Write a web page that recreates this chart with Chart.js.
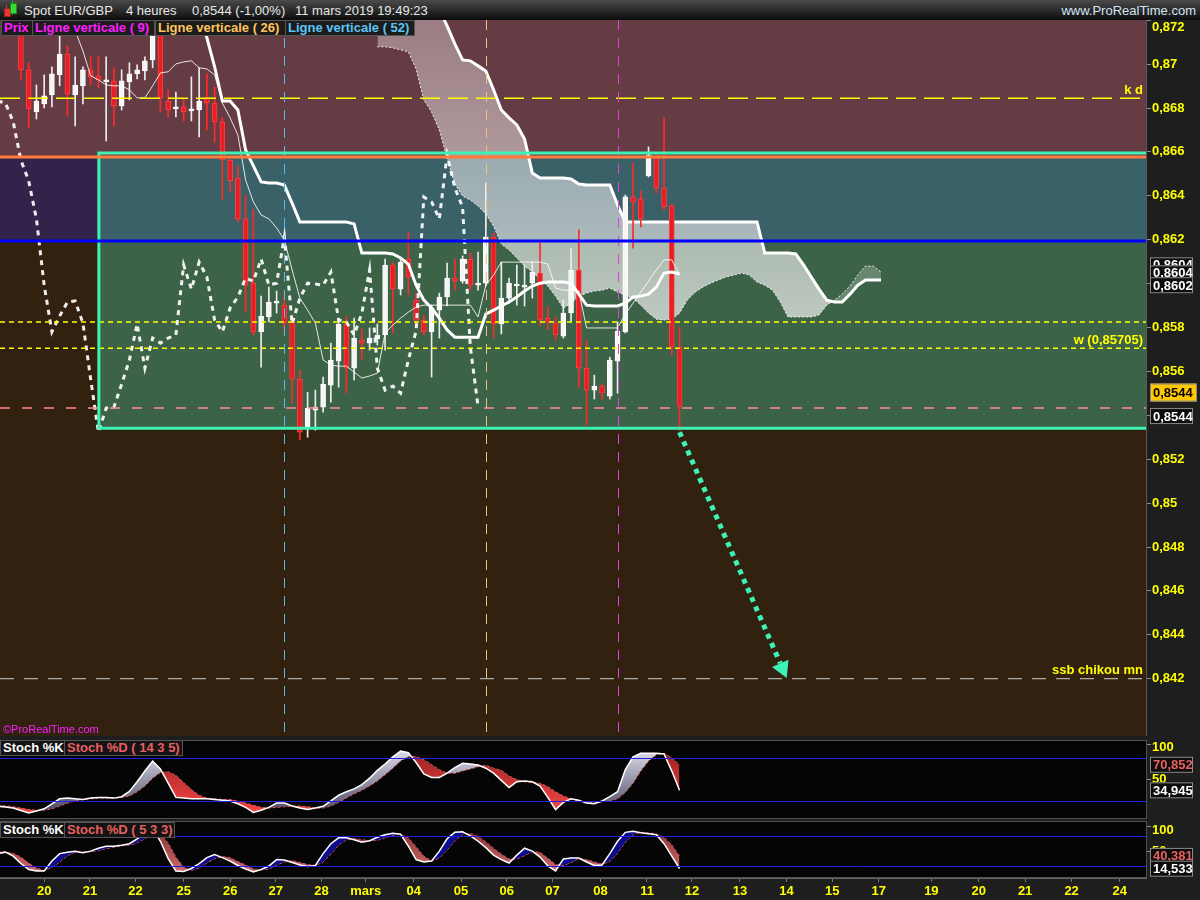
<!DOCTYPE html>
<html>
<head>
<meta charset="utf-8">
<script src="https://cdn.jsdelivr.net/npm/chart.js@4.4.1/dist/chart.umd.min.js"></script>
<style>
  body { margin:0; width:1200px; height:900px; overflow:hidden; background:#1e1e1e; font-family:"Liberation Sans", Arial, sans-serif; }
  canvas { position:absolute; left:0; }
  #hdr { position:absolute; left:0; top:0; width:1200px; height:20px; background:linear-gradient(#4a4a4a,#0c0c0c); color:#e8e8e8; font-size:13px; z-index:3; }
  #hdr span { position:absolute; top:3px; white-space:nowrap; }
  .lg { position:absolute; top:20px; height:14px; line-height:14px; background:#1c1c1c; border:1px solid #555; font-weight:bold; font-size:13px; padding-left:2px; white-space:nowrap; z-index:3; }
  .stl { position:absolute; height:14px; line-height:14px; background:#141414; border:1px solid #555; font-weight:bold; font-size:13px; padding:0 2px; white-space:nowrap; z-index:3; }
  .ic { position:absolute; z-index:4; }
</style>
</head>
<body>
<div id="hdr">
  <div class="ic" style="left:6px;top:5px;width:1px;height:12px;background:#d33"></div>
  <div class="ic" style="left:4px;top:8px;width:5px;height:7px;background:#e33;border:1px solid #922"></div>
  <div class="ic" style="left:12px;top:1px;width:1px;height:14px;background:#3c3"></div>
  <div class="ic" style="left:10px;top:3px;width:5px;height:9px;background:#3d3;border:1px solid #282"></div>
  <span style="left:24px">Spot EUR/GBP</span>
  <span style="left:126px">4 heures</span>
  <span style="left:192px">0,8544 (-1,00%)</span>
  <span style="left:295px">11 mars 2019 19:49:23</span>
  <span style="right:4px;color:#d4e4f4">www.ProRealTime.com</span>
</div>
<div class="lg" style="left:1px;width:28px;color:#ff1cff">Prix</div>
<div class="lg" style="left:32px;width:119px;color:#ff1cff">Ligne verticale ( 9)</div>
<div class="lg" style="left:155px;width:127px;color:#ffc45c">Ligne verticale ( 26)</div>
<div class="lg" style="left:285px;width:126px;color:#5cc4f4">Ligne verticale ( 52)</div>
<div style="position:absolute;left:3px;top:723px;font-size:11px;color:#ff20ff;z-index:3">©ProRealTime.com</div>
<div class="stl" style="left:0px;top:740px;color:#fff">Stoch %K</div>
<div class="stl" style="left:64px;top:740px;color:#e86060">Stoch %D ( 14 3 5)</div>
<div class="stl" style="left:0px;top:822px;color:#fff">Stoch %K</div>
<div class="stl" style="left:64px;top:822px;color:#e86060">Stoch %D ( 5 3 3)</div>

<canvas id="main" width="1200" height="716" style="top:20px"></canvas>
<canvas id="st1" width="1200" height="79" style="top:740px"></canvas>
<canvas id="st2" width="1200" height="79" style="top:821px"></canvas>

<script>
// EUR/GBP 4h candles, bar 0 = first visible bar (20 feb)
const opens  = [0.87156,0.86974,0.86782,0.86819,0.86860,0.86951,0.87046,0.86860,0.86901,0.86974,0.86947,0.86919,0.86924,0.86810,0.86919,0.86956,0.86969,0.87019,0.87165,0.86832,0.86796,0.86805,0.86787,0.86791,0.86846,0.86823,0.86737,0.86563,0.86481,0.86295,0.86002,0.85780,0.85848,0.85911,0.85902,0.85825,0.85565,0.85341,0.85423,0.85437,0.85537,0.85647,0.85816,0.85615,0.85743,0.85729,0.85748,0.85766,0.86085,0.85975,0.86112,0.85925,0.85834,0.85780,0.85879,0.85939,0.86025,0.86011,0.86112,0.85993,0.86002,0.86212,0.85816,0.85934,0.85989,0.85984,0.86002,0.86048,0.85843,0.85820,0.85761,0.85866,0.86062,0.85615,0.85515,0.85533,0.85487,0.85647,0.85780,0.86395,0.86386,0.86491,0.86582,0.86436,0.86354,0.85711];
const highs  = [0.87193,0.87006,0.86905,0.86951,0.86988,0.87138,0.87083,0.87033,0.86988,0.87033,0.87033,0.87033,0.86983,0.86974,0.87006,0.86997,0.87033,0.87197,0.87184,0.86883,0.86873,0.86842,0.86942,0.86983,0.86956,0.86896,0.86755,0.86572,0.86536,0.86404,0.86336,0.85943,0.85984,0.85966,0.85961,0.85857,0.85606,0.85505,0.85515,0.85574,0.85729,0.85843,0.85852,0.85843,0.85793,0.85798,0.85816,0.86112,0.86098,0.86112,0.86235,0.85957,0.85857,0.85902,0.85957,0.86094,0.86112,0.86126,0.86139,0.86144,0.86458,0.86231,0.86098,0.86025,0.86085,0.86085,0.86098,0.86185,0.85893,0.85848,0.85925,0.86162,0.86245,0.85743,0.85583,0.85542,0.85665,0.85825,0.86404,0.86550,0.86422,0.86623,0.86586,0.86755,0.86363,0.85802];
const lows   = [0.86928,0.86709,0.86750,0.86801,0.86805,0.86901,0.86764,0.86718,0.86819,0.86905,0.86892,0.86650,0.86718,0.86791,0.86837,0.86933,0.86928,0.86983,0.86782,0.86759,0.86759,0.86741,0.86741,0.86668,0.86700,0.86645,0.86381,0.86417,0.86281,0.85870,0.85766,0.85619,0.85825,0.85866,0.85775,0.85455,0.85289,0.85300,0.85332,0.85414,0.85460,0.85528,0.85501,0.85561,0.85652,0.85697,0.85720,0.85697,0.85775,0.85948,0.85948,0.85802,0.85766,0.85574,0.85752,0.85898,0.85970,0.86002,0.85970,0.85970,0.85989,0.85752,0.85771,0.85911,0.85902,0.85898,0.85934,0.85807,0.85789,0.85743,0.85752,0.85825,0.85528,0.85355,0.85474,0.85474,0.85474,0.85501,0.85775,0.86162,0.86258,0.86486,0.86413,0.86336,0.85674,0.85332];
const closes = [0.86974,0.86796,0.86832,0.86855,0.86956,0.87046,0.86864,0.86905,0.86974,0.86942,0.86928,0.86924,0.86810,0.86924,0.86956,0.86974,0.87015,0.87165,0.86846,0.86791,0.86805,0.86782,0.86796,0.86832,0.86823,0.86737,0.86563,0.86468,0.86295,0.85993,0.85780,0.85852,0.85916,0.85921,0.85820,0.85565,0.85323,0.85433,0.85437,0.85542,0.85652,0.85816,0.85615,0.85752,0.85729,0.85752,0.85766,0.86085,0.85975,0.86098,0.86030,0.85834,0.85780,0.85889,0.85939,0.86025,0.86011,0.86112,0.85993,0.86002,0.86212,0.85816,0.85934,0.86002,0.85998,0.85993,0.86053,0.85834,0.85825,0.85766,0.85866,0.86062,0.85615,0.85515,0.85533,0.85501,0.85652,0.85784,0.86395,0.86372,0.86295,0.86586,0.86436,0.86349,0.85711,0.85440];

// Ichimoku
const tenkan = [0.8731,0.8731,0.8731,0.8729,0.8727,0.8725,0.8723,0.87152,0.87060,0.86947,0.86928,0.86905,0.86901,0.86901,0.86883,0.86846,0.86846,0.86901,0.86960,0.86965,0.87001,0.87010,0.87015,0.86983,0.86978,0.86951,0.86823,0.86755,0.86677,0.86472,0.86372,0.86313,0.86295,0.86254,0.86199,0.86062,0.85934,0.85879,0.85820,0.85652,0.85629,0.85624,0.85624,0.85597,0.85570,0.85579,0.85592,0.85775,0.85811,0.85843,0.85870,0.85893,0.85902,0.85902,0.85902,0.85902,0.85902,0.85902,0.85902,0.85848,0.85993,0.86039,0.86098,0.86098,0.86098,0.86098,0.86098,0.86098,0.86089,0.85980,0.85970,0.85970,0.85966,0.85798,0.85798,0.85798,0.85798,0.85798,0.85861,0.85911,0.85961,0.86011,0.86062,0.86108,0.86108,0.8604];
const kijun  = [0.8738,0.8738,0.8738,0.8738,0.8738,0.8738,0.8738,0.8738,0.8738,0.8738,0.8738,0.8738,0.8738,0.8738,0.8738,0.8738,0.8738,0.8738,0.8738,0.8738,0.8738,0.8738,0.87270,0.87211,0.87120,0.86988,0.86832,0.86832,0.86791,0.86609,0.86536,0.86463,0.86458,0.86458,0.86449,0.86367,0.86281,0.86281,0.86281,0.86281,0.86281,0.86281,0.86281,0.86272,0.86139,0.86139,0.86139,0.86139,0.86135,0.86117,0.86089,0.85993,0.85925,0.85889,0.85843,0.85789,0.85756,0.85756,0.85756,0.85756,0.85861,0.85879,0.85898,0.85916,0.85939,0.85966,0.85989,0.86002,0.86007,0.86007,0.86007,0.86002,0.85952,0.85902,0.85898,0.85898,0.85898,0.85898,0.85911,0.85939,0.85943,0.85952,0.85984,0.86048,0.86053,0.86044];
const cloudStart = 46;
const ssa = [0.87079,0.87079,0.87074,0.87065,0.87056,0.86978,0.86837,0.86782,0.86700,0.86572,0.86454,0.86399,0.86381,0.86354,0.86317,0.86262,0.86180,0.86153,0.86117,0.86080,0.86053,0.86021,0.85989,0.85943,0.85889,0.85911,0.85943,0.85957,0.85966,0.85970,0.85980,0.85961,0.85948,0.85934,0.85902,0.85866,0.85838,0.85834,0.85838,0.85866,0.85925,0.85961,0.85984,0.86002,0.86017,0.86030,0.86039,0.86048,0.86039,0.86007,0.85993,0.85970,0.85916,0.85848,0.85848,0.85848,0.85848,0.85857,0.85902,0.85925,0.85952,0.85989,0.86039,0.86080,0.86080,0.86053];
const ssb = [0.8740,0.8740,0.8740,0.8740,0.8740,0.8740,0.8740,0.8740,0.87250,0.87174,0.87092,0.87019,0.87015,0.86992,0.86969,0.86883,0.86791,0.86755,0.86723,0.86659,0.86504,0.86481,0.86481,0.86481,0.86481,0.86477,0.86454,0.86449,0.86449,0.86449,0.86449,0.86358,0.86281,0.86281,0.86281,0.86281,0.86281,0.86281,0.86281,0.86281,0.86281,0.86281,0.86281,0.86281,0.86281,0.86281,0.86281,0.86281,0.86281,0.86281,0.86139,0.86139,0.86139,0.86139,0.86135,0.86085,0.86030,0.85975,0.85925,0.85916,0.85916,0.85952,0.85993,0.86017,0.86017,0.86017];
const chikouShift = 26;

// Stochastics, first value is bar -3
const stochStart = -3;
const k1 = [12.5,11.5,10,6.5,3,6,9,16,23,24,23,22,24,25,25,24,26,33.5,47,62,76,65,45,25,24,23,23,23,22,21,20,16,11,4,7,11,17,17,13,10,8,10,12.5,20,28,33,37,43,52,63,72,82,90,88,74,58,53,53,59,67,73,72,70.5,66,59,49,39,47,48,47,41,25,8,18,23,21,17,16,20,26,33,64,82,87,87,87,86,62,34.945];
const d1 = [14,13,12,10,8,7,7,9,13,17,20,22,23,24,24,24,25,27,33,41,52,60,61,56,46,36,28,24,23,22,22,20,17,14,11,10,11,12,13,13,12,10,10,13,18,24,30,35,41,48,57,66,76,82,82,78,71,64,59,59,62,65,68,70,66,63,55,50,47,46,45,40,33,27,23,20,18,18,19,20,23,32,45,62,76,85,87,80,70.852];
const k2 = [45,48,40,25,13,10,10,30,45,48,50,47,50,56,60,60,62,65,75,86,95,70,35,10,9,15,25,37,43,37,30,21,14,8,13,20,33,32,27,22,19,21,45,65,77,77,73,68,71,78,83,86,84,60,33,28,30,50,75,88,89,81,70,57,42,33,26,42,56,50,38,20,10,34,36,36,28,21,22,45,70,88,90,87,85,83,65,40,14.533];
const d2 = [50,48,46,38,26,16,11,17,28,41,48,48,49,51,55,58,61,62,67,75,85,84,67,38,18,11,16,26,35,39,37,29,22,14,12,14,22,28,31,27,23,21,28,44,62,73,76,73,71,72,77,82,84,77,59,40,30,36,52,71,84,86,80,69,56,44,34,34,41,49,48,36,23,21,27,35,33,28,24,29,46,68,83,88,87,85,78,63,40.381];

// axes
const priceTicks = [0.842,0.844,0.846,0.848,0.85,0.852,0.854,0.856,0.858,0.86,0.862,0.864,0.866,0.868,0.87,0.872];
const dayLabels = ['20','21','22','25','26','27','28','mars','04','05','06','07','08','11','12','13','14','15','17','19','20','21','22','24'];
const dayTickPos = [3,8.9,14.8,21,27,32.9,38.8,44.5,50.7,56.8,62.7,68.6,74.8,80.8,86.6,92.8,98.8,104.7,110.7,117.5,123.6,129.6,135.6,141.8];

// drawn levels
const levelKD = 0.86845, levelOrange = 0.86577, levelBlue = 0.86194;
const levelY1 = 0.85825, levelW = 0.85705, levelPink = 0.85433, levelTarget = 0.842;
const boxLeft = 10.06, boxTop = 0.86595, boxBottom = 0.85341;
const vLines = [{at:34, color:'#58b8f0'}, {at:60, color:'#f0c37a'}, {at:77, color:'#e040e0'}];
const arrowFrom = [85, 0.85323], arrowTo = [98.0, 0.8427];

const X_MIN = -2.7, X_MAX = 145.2;
const FONT = '"Liberation Sans", Arial, sans-serif';
const CYAN = '#3ef2b5';
Chart.defaults.font.family = FONT;
Chart.defaults.animation = false;
Chart.defaults.events = [];
Chart.defaults.plugins.legend.display = false;
Chart.defaults.plugins.tooltip.enabled = false;

function fmtPrice(v) {
  return v.toFixed(3).replace(/0+$/, '').replace('.', ',');
}
function fmtPrice4(v) { return v.toFixed(4).replace('.', ','); }

function priceBox(ctx, text, yc, bg, fg, w, h) {
  ctx.save();
  ctx.fillStyle = bg;
  ctx.fillRect(1150.5, yc - h / 2, w, h);
  ctx.strokeStyle = '#8c8c8c';
  ctx.lineWidth = 1;
  ctx.strokeRect(1150.5, yc - h / 2 + 0.5, w, h - 1);
  ctx.fillStyle = fg;
  ctx.font = 'bold 13px ' + FONT;
  ctx.textBaseline = 'middle';
  ctx.textAlign = 'left';
  ctx.fillText(text, 1153, yc + 1);
  ctx.restore();
}

function hLine(ctx, a, y, color, width, dash) {
  ctx.beginPath();
  ctx.setLineDash(dash || []);
  ctx.strokeStyle = color;
  ctx.lineWidth = width;
  ctx.moveTo(a.left, y);
  ctx.lineTo(a.right, y);
  ctx.stroke();
}

const up = closes.map((c, i) => c >= opens[i]);

const mainDeco = {
  id: 'mainDeco',
  beforeDraw(chart) {
    const {ctx, chartArea: a, scales: {x, y}} = chart;
    const X = v => x.getPixelForValue(v), Y = v => y.getPixelForValue(v);
    ctx.save();
    ctx.fillStyle = '#1e1e1e';
    ctx.fillRect(0, 0, chart.width, chart.height);
    ctx.fillStyle = '#32210f';
    ctx.fillRect(a.left, a.top, a.right - a.left, a.bottom - a.top);
    ctx.fillStyle = '#653c44';
    ctx.fillRect(a.left, a.top, a.right - a.left, Y(levelOrange) - a.top);
    ctx.fillStyle = '#32234a';
    ctx.fillRect(a.left, Y(levelOrange), a.right - a.left, Y(levelBlue) - Y(levelOrange));
    const rx = X(boxLeft);
    ctx.fillStyle = '#3a6068';
    ctx.fillRect(rx, Y(levelOrange), a.right - rx, Y(levelBlue) - Y(levelOrange));
    ctx.fillStyle = '#3c6248';
    ctx.fillRect(rx, Y(levelBlue), a.right - rx, Y(boxBottom) - Y(levelBlue));
    ctx.restore();
  },
  afterDatasetsDraw(chart) {
    const {ctx, chartArea: a, scales: {x, y}} = chart;
    const X = v => x.getPixelForValue(v), Y = v => y.getPixelForValue(v);
    ctx.save();
    ctx.beginPath();
    ctx.rect(a.left, a.top, a.right - a.left, a.bottom - a.top);
    ctx.clip();
    hLine(ctx, a, Y(levelKD), '#ffff00', 1.5, [20, 8]);
    hLine(ctx, a, Y(levelY1), '#ffff00', 1.5, [5, 4]);
    hLine(ctx, a, Y(levelW), '#ffff00', 1.5, [5, 4]);
    hLine(ctx, a, Y(levelPink), '#ff8c8c', 1.5, [10, 12]);
    hLine(ctx, a, Y(levelTarget), '#d0d0d0', 1, [14, 10]);
    vLines.forEach(v => {
      ctx.beginPath();
      ctx.setLineDash([10, 8]);
      ctx.strokeStyle = v.color;
      ctx.lineWidth = 1;
      ctx.moveTo(Math.round(X(v.at)) + 0.5, a.top);
      ctx.lineTo(Math.round(X(v.at)) + 0.5, a.bottom);
      ctx.stroke();
    });
    ctx.setLineDash([]);
    ctx.strokeStyle = CYAN;
    ctx.lineWidth = 3;
    ctx.strokeRect(X(boxLeft), Y(boxTop), a.right - X(boxLeft) + 4, Y(boxBottom) - Y(boxTop));
    hLine(ctx, a, Y(levelOrange), '#ff7c3c', 3);
    hLine(ctx, a, Y(levelBlue), '#0000ff', 3);

    // target arrow
    const x0 = X(arrowFrom[0]), y0 = Y(arrowFrom[1]), x1 = X(arrowTo[0]), y1 = Y(arrowTo[1]);
    const ang = Math.atan2(y1 - y0, x1 - x0);
    ctx.beginPath();
    ctx.setLineDash([5, 5]);
    ctx.lineWidth = 5;
    ctx.strokeStyle = CYAN;
    ctx.moveTo(x0, y0);
    ctx.lineTo(x1, y1);
    ctx.stroke();
    ctx.setLineDash([]);
    ctx.beginPath();
    ctx.moveTo(x1 + 16 * Math.cos(ang), y1 + 16 * Math.sin(ang));
    ctx.lineTo(x1 + 9 * Math.sin(ang), y1 - 9 * Math.cos(ang));
    ctx.lineTo(x1 - 9 * Math.sin(ang), y1 + 9 * Math.cos(ang));
    ctx.closePath();
    ctx.fillStyle = CYAN;
    ctx.fill();

    ctx.fillStyle = '#ffff00';
    ctx.font = 'bold 13px ' + FONT;
    ctx.textAlign = 'right';
    ctx.textBaseline = 'bottom';
    ctx.fillText('k d', a.right - 3, Y(levelKD) - 1);
    ctx.fillText('w (0,85705)', a.right - 3, Y(levelW) - 1);
    ctx.fillText('ssb chikou mn', a.right - 3, Y(levelTarget) - 2);
    ctx.restore();
  },
  afterDraw(chart) {
    const {ctx, scales: {y}} = chart;
    const Y = v => y.getPixelForValue(v);
    ctx.save();
    ctx.fillStyle = '#ffff00';
    ctx.font = 'bold 13px ' + FONT;
    ctx.textBaseline = 'middle';
    ctx.fillText('0,872', 1152, 7);
    ctx.restore();
    const last = closes[closes.length - 1];
    priceBox(ctx, '0,8604', Y(tenkan[tenkan.length - 1]) - 10, '#0c0c0c', '#ffffff', 42, 15);
    priceBox(ctx, '0,8604', Y(tenkan[tenkan.length - 1]) - 2, '#0c0c0c', '#ffffff', 42, 15);
    priceBox(ctx, '0,8602', Y(0.8602) + 6, '#0c0c0c', '#ffffff', 42, 16);
    priceBox(ctx, fmtPrice4(last), Y(last) - 14, '#ffc800', '#000000', 46, 18);
    priceBox(ctx, fmtPrice4(last), Y(levelPink) + 8, '#0c0c0c', '#ffffff', 42, 16);
  }
};

const mctx = document.getElementById('main').getContext('2d');
const cloudGrad = mctx.createLinearGradient(0, 0, 0, 320);
cloudGrad.addColorStop(0, 'rgba(240,232,232,0.38)');
cloudGrad.addColorStop(1, 'rgba(250,250,250,0.70)');

const pts = (arr, start) => arr.map((v, k) => ({x: k + start, y: v}));
const chikou = closes.map((c, i) => ({x: i - chikouShift, y: c})).filter(p => p.x > X_MIN - 1);

new Chart(mctx, {
  type: 'bar',
  data: {
    datasets: [
      { type: 'line', data: pts(ssa, cloudStart), borderColor: 'rgba(255,255,255,0.9)', borderWidth: 1, borderDash: [2, 2],
        pointRadius: 0, fill: {target: 1, above: 'rgba(200,215,200,0.32)', below: cloudGrad}, order: 10 },
      { type: 'line', data: pts(ssb, cloudStart), borderColor: '#ffffff', borderWidth: 3, pointRadius: 0, fill: false, order: 9 },
      { data: opens.map((o, i) => ({x: i, y: [lows[i], highs[i]]})), backgroundColor: up.map(u => u ? '#ececec' : '#ff2a2a'),
        barThickness: 1, borderWidth: 0, grouped: false, order: 8 },
      { data: opens.map((o, i) => ({x: i, y: [o, closes[i]]})), backgroundColor: up.map(u => u ? '#f6f6f6' : '#e61e26'),
        borderColor: up.map(u => u ? '#ffffff' : '#ff4040'), borderWidth: 1, borderSkipped: false,
        barThickness: 5, minBarLength: 2, grouped: false, order: 7 },
      { type: 'line', data: pts(tenkan, 0), borderColor: 'rgba(255,255,255,0.85)', borderWidth: 1, pointRadius: 0, fill: false, order: 3 },
      { type: 'line', data: pts(kijun, 0), borderColor: '#ffffff', borderWidth: 3, pointRadius: 0, fill: false, order: 2 },
      { type: 'line', data: chikou, borderColor: 'rgba(255,255,255,0.92)', borderWidth: 3, borderDash: [5, 5], pointRadius: 0, fill: false, order: 1 }
    ]
  },
  options: {
    responsive: false,
    devicePixelRatio: 1,
    layout: {padding: 0},
    scales: {
      x: { type: 'linear', min: X_MIN, max: X_MAX, offset: false, display: false },
      y: {
        position: 'right', min: 0.83939, max: 0.87201,
        afterBuildTicks: s => { s.ticks = priceTicks.map(v => ({value: v})); },
        afterFit: s => { s.width = 54; s.paddingTop = 0; s.paddingBottom = 0; },
        ticks: { color: '#ffff00', font: {size: 13, weight: 'bold'}, padding: 1,
                 callback: v => v > 0.8715 ? '' : fmtPrice(v) },
        grid: { drawOnChartArea: false, drawTicks: true, tickLength: 5, color: '#8c8c8c' },
        border: { display: true, color: '#5a5a5a' }
      }
    }
  },
  plugins: [mainDeco]
});

function makeStoch(id, K, D, aboveFill, belowFill, yMin, yMax, showX, label100Y, boxes) {
  const c = document.getElementById(id).getContext('2d');
  const deco = {
    id: 'deco_' + id,
    beforeDraw(chart) {
      const {ctx, chartArea: a} = chart;
      ctx.save();
      ctx.fillStyle = '#1e1e1e';
      ctx.fillRect(0, 0, chart.width, chart.height);
      ctx.fillStyle = '#050505';
      ctx.fillRect(a.left, a.top, a.right - a.left, a.bottom - a.top);
      ctx.restore();
    },
    afterDatasetsDraw(chart) {
      const {ctx, chartArea: a, scales: {y}} = chart;
      ctx.save();
      hLine(ctx, a, Math.round(y.getPixelForValue(80)) + 0.5, '#2020e8', 1);
      hLine(ctx, a, Math.round(y.getPixelForValue(20)) + 0.5, '#2020e8', 1);
      ctx.setLineDash([]);
      ctx.strokeStyle = '#505050';
      ctx.strokeRect(a.left - 0.5, a.top + 0.5, a.right - a.left + 1, a.bottom - a.top - 1);
      ctx.restore();
    },
    afterDraw(chart) {
      const {ctx, scales: {y}} = chart;
      ctx.save();
      ctx.fillStyle = '#ffff00';
      ctx.font = 'bold 13px ' + FONT;
      ctx.textBaseline = 'middle';
      ctx.fillText('100', 1152, label100Y);
      ctx.restore();
      boxes.forEach(b => priceBox(ctx, b.text, y.getPixelForValue(b.value), '#0c0c0c', b.color, 42, 16));
    }
  };
  const gradAbove = typeof aboveFill === 'function' ? aboveFill(c) : aboveFill;
  const gradBelow = typeof belowFill === 'function' ? belowFill(c) : belowFill;
  new Chart(c, {
    type: 'line',
    data: {
      datasets: [
        { data: pts(K, stochStart), borderColor: '#ffffff', borderWidth: 1.5, pointRadius: 0,
          fill: {target: 1, above: gradAbove, below: gradBelow} },
        { data: pts(D, stochStart), borderColor: '#ff5a5a', borderWidth: 1, borderDash: [3, 2], pointRadius: 0, fill: false }
      ]
    },
    options: {
      responsive: false,
      devicePixelRatio: 1,
      layout: {padding: 0},
      scales: {
        x: {
          type: 'linear', min: X_MIN, max: X_MAX, offset: false, display: showX,
          afterBuildTicks: s => { s.ticks = dayTickPos.map(v => ({value: v})); },
          afterFit: s => { s.height = showX ? 22 : 0; s.paddingLeft = 0; s.paddingRight = 0; },
          ticks: { autoSkip: false, maxRotation: 0, color: '#ffff00', font: {size: 13, weight: 'bold'}, padding: 2,
                   callback: (v, i) => dayLabels[i] },
          grid: { drawOnChartArea: false, drawTicks: true, tickLength: 4, color: '#777' },
          border: { display: true, color: '#666' }
        },
        y: {
          position: 'right', min: yMin, max: yMax,
          afterBuildTicks: s => { s.ticks = [{value: 100}, {value: 50}]; },
          afterFit: s => { s.width = 54; s.paddingTop = 0; s.paddingBottom = 0; },
          ticks: { color: '#ffff00', font: {size: 13, weight: 'bold'}, padding: 1, callback: v => v === 100 ? '' : String(v) },
          grid: { drawOnChartArea: false, drawTicks: true, tickLength: 5, color: '#8c8c8c' },
          border: { display: true, color: '#5a5a5a' }
        }
      }
    },
    plugins: [deco]
  });
}

makeStoch('st1', k1, d1,
  c => { const g = c.createLinearGradient(0, 0, 0, 79); g.addColorStop(0, '#f6f6ff'); g.addColorStop(1, '#383858'); return g; },
  c => { const g = c.createLinearGradient(0, 0, 0, 79); g.addColorStop(0, '#8a1c1c'); g.addColorStop(1, '#ff4a4a'); return g; },
  -5.34, 105.66, false, 7,
  [{text: '70,852', value: d1[d1.length - 1], color: '#e86060'}, {text: '34,945', value: k1[k1.length - 1], color: '#ffffff'}]);

makeStoch('st2', k2, d2,
  '#0c0c8c',
  c => { const g = c.createLinearGradient(0, 0, 0, 57); g.addColorStop(0, '#7a2626'); g.addColorStop(1, '#d87272'); return g; },
  -4.24, 110.9, true, 9,
  [{text: '40,381', value: d2[d2.length - 1], color: '#e86060'}, {text: '14,533', value: k2[k2.length - 1], color: '#ffffff'}]);
</script>
</body>
</html>
